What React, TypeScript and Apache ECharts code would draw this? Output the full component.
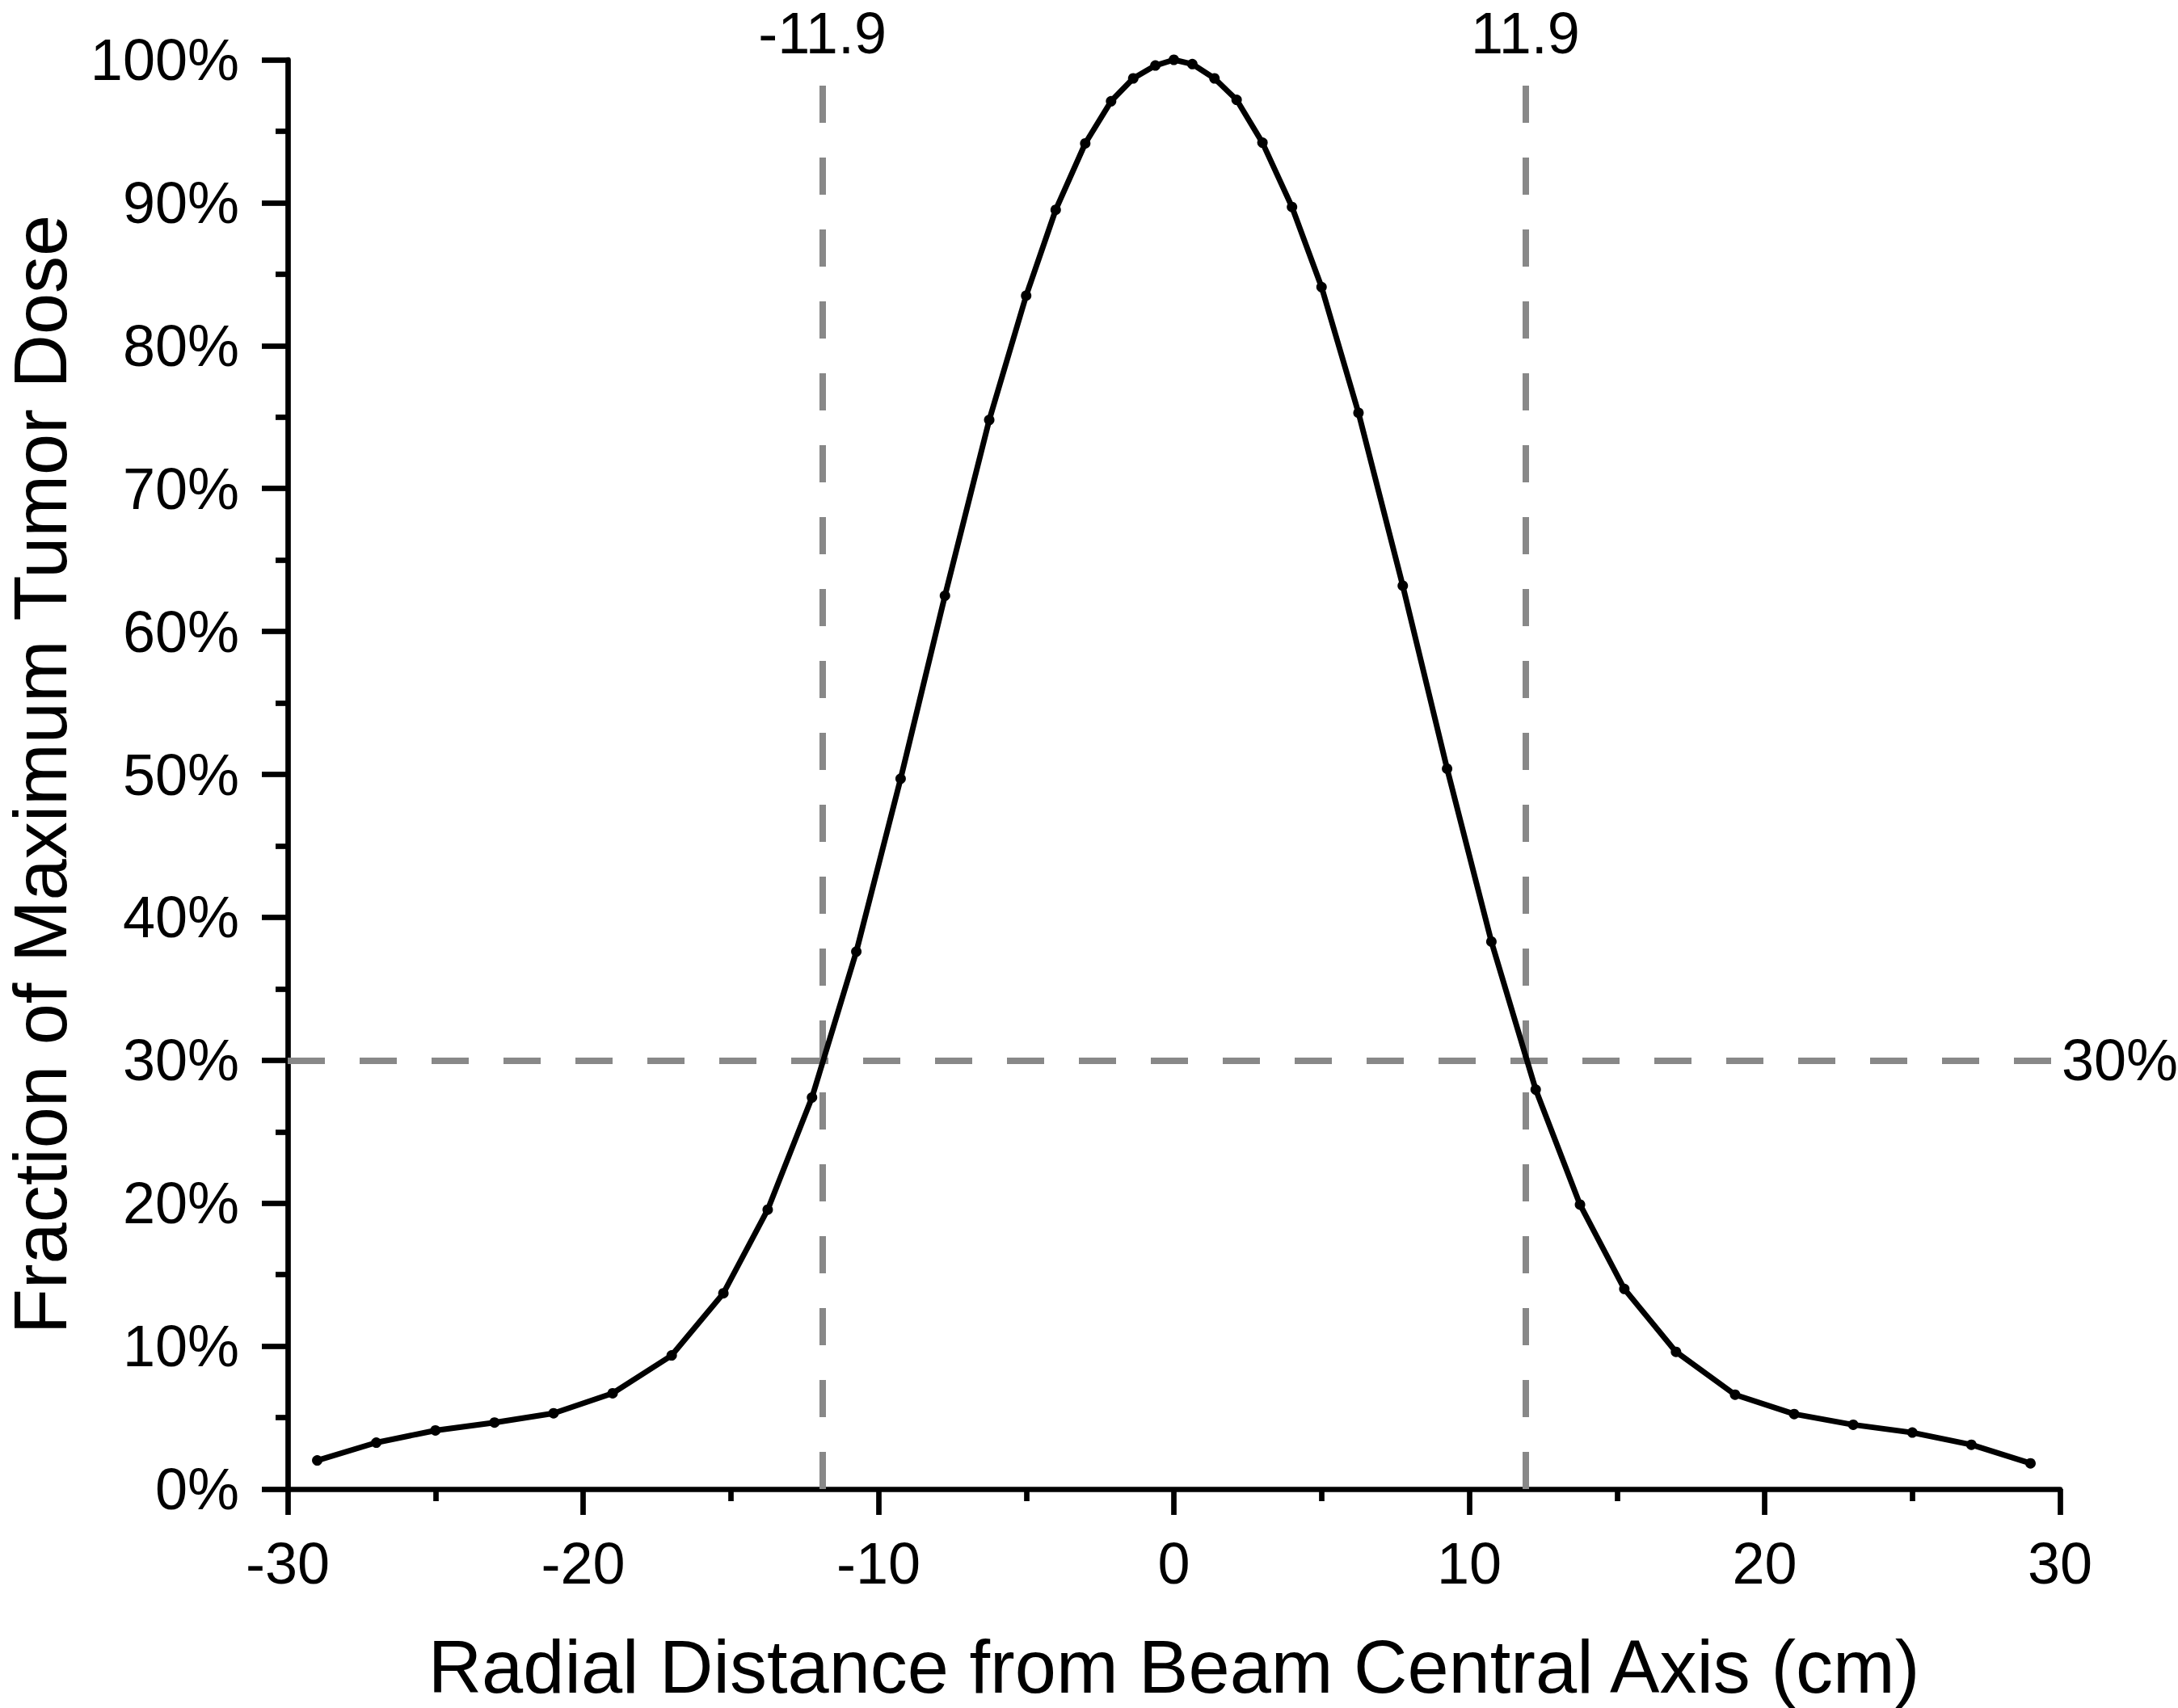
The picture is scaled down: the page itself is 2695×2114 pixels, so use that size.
import React, { useEffect, useRef } from "react";
import * as echarts from "echarts";

// Radial distance from beam central axis (cm)
const radialCm: number[] = [
  -29, -27, -25, -23, -21, -19, -17, -15.25, -13.75, -12.25, -10.75, -9.25, -7.75, -6.25,
  -5, -4, -3, -2.125, -1.375, -0.625, 0, 0.625, 1.375, 2.125, 3, 4, 5,
  6.25, 7.75, 9.25, 10.75, 12.25, 13.75, 15.25, 17, 19, 21, 23, 25, 27, 29,
];
// Fraction of maximum tumor dose (%)
const dosePct: number[] = [
  2.0, 3.25, 4.1, 4.65, 5.3, 6.7, 9.35, 13.7, 19.55, 27.4, 37.6, 49.7, 62.5, 74.8,
  83.5, 89.5, 94.15, 97.1, 98.7, 99.6, 100, 99.7, 98.7, 97.2, 94.2, 89.7, 84.1,
  75.3, 63.2, 50.4, 38.3, 27.95, 19.9, 14.0, 9.6, 6.6, 5.25, 4.5, 3.95, 3.1, 1.8,
];
// Reference lines
const cutoffX: number[] = [-11.9, 11.9];
const cutoffLabels: string[] = ["-11.9", "11.9"];
const thresholdY: number[] = [30];
const thresholdLabels: string[] = ["30%"];

const xTitle = "Radial Distance from Beam Central Axis (cm)";
const yTitle = "Fraction of Maximum Tumor Dose";

const FONT = "'Liberation Sans', Arial, sans-serif";

export default function App() {
  const ref = useRef<HTMLDivElement>(null);
  useEffect(() => {
    if (!ref.current) return;
    const chart = echarts.init(ref.current, null, { renderer: "svg" });
    const axisLine = { show: true, onZero: false, lineStyle: { color: "#000", width: 6.7 } };
    const axisTick = { show: true, length: 32, lineStyle: { color: "#000", width: 6.7 } };
    const minorTick = { show: true, splitNumber: 2, length: 15, lineStyle: { color: "#000", width: 6.7 } };
    const dashStyle = { color: "#888888", width: 8, type: [46, 43] as number[] };

    const markData: any[] = [];
    cutoffX.forEach((v, i) =>
      markData.push({
        xAxis: v,
        label: { formatter: cutoffLabels[i], position: "end", distance: 8, lineHeight: 50 },
      })
    );
    thresholdY.forEach((v, i) =>
      markData.push({
        yAxis: v,
        label: { formatter: thresholdLabels[i], position: "end", distance: 2 },
      })
    );

    chart.setOption({
      animation: false,
      backgroundColor: "#ffffff",
      textStyle: { fontFamily: FONT },
      grid: {
        left: 356,
        right: 146,
        top: 74,
        bottom: 271,
        containLabel: false,
        outerBoundsMode: "none",
      },
      xAxis: {
        type: "value",
        min: -30,
        max: 30,
        interval: 10,
        name: xTitle,
        nameLocation: "middle",
        nameGap: 174,
        nameTextStyle: { fontSize: 92, color: "#000", fontFamily: FONT },
        axisLine,
        axisTick,
        minorTick,
        splitLine: { show: false },
        minorSplitLine: { show: false },
        axisLabel: { fontSize: 72, color: "#000", margin: 56, fontFamily: FONT },
      },
      yAxis: {
        type: "value",
        min: 0,
        max: 100,
        interval: 10,
        name: yTitle,
        nameLocation: "middle",
        nameGap: 260,
        nameTextStyle: { fontSize: 92, color: "#000", fontFamily: FONT },
        axisLine,
        axisTick,
        minorTick,
        splitLine: { show: false },
        minorSplitLine: { show: false },
        axisLabel: {
          fontSize: 72,
          color: "#000",
          margin: 60,
          fontFamily: FONT,
          formatter: (v: number) => `${v}%`,
        },
      },
      series: [
        {
          type: "line",
          data: radialCm.map((x, i) => [x, dosePct[i]]),
          symbol: "circle",
          symbolSize: 13,
          showSymbol: true,
          lineStyle: { color: "#000", width: 7 },
          itemStyle: { color: "#000" },
          z: 3,
          markLine: {
            silent: true,
            symbol: ["none", "none"],
            lineStyle: dashStyle,
            label: { show: true, fontSize: 72, color: "#000", fontFamily: FONT },
            emphasis: { disabled: true },
            z: 2,
            data: markData,
          },
        },
      ],
    });
    return () => chart.dispose();
  }, []);
  return (
    <div
      ref={ref}
      style={{ position: "absolute", left: 0, top: 0, width: 2695, height: 2114, background: "#fff" }}
    />
  );
}
